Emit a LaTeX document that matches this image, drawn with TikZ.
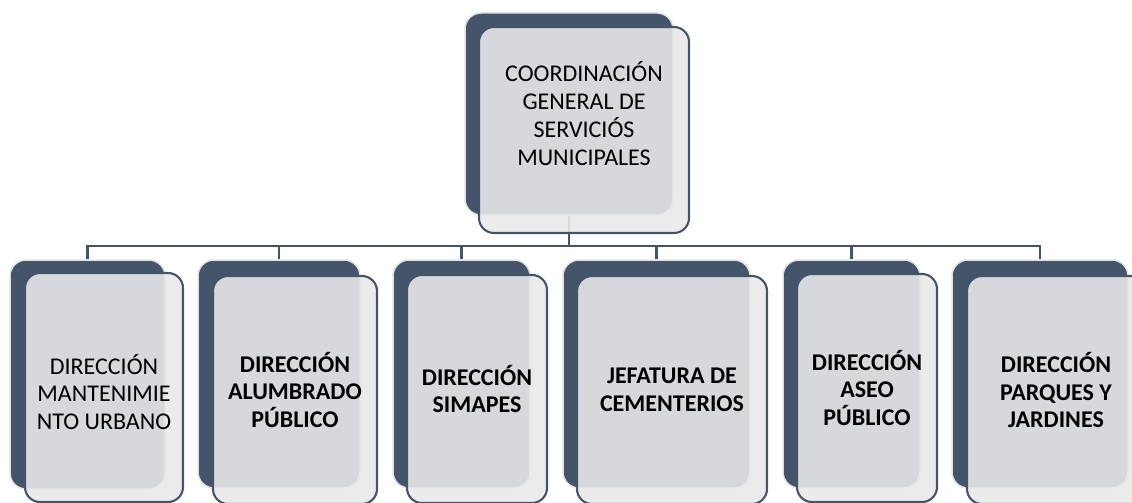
\documentclass[tikz,border=0pt]{standalone}
\usepackage{fontspec}
\setmainfont{Carlito}
\definecolor{slate}{HTML}{44546A}
\definecolor{paper}{HTML}{E9E9E9}
\definecolor{halo}{HTML}{E2E2E2}
\begin{document}
\begin{tikzpicture}[x=1pt,y=-1pt,
  back/.style={draw=halo, line width=1.5pt, fill=slate, rounded corners=16pt, inner sep=0pt},
  front/.style={draw=slate, line width=2.1pt, fill=paper, fill opacity=0.89, text opacity=1,
    rounded corners=15pt, align=center, inner sep=0pt,
    font=\fontsize{24}{27.5}\selectfont},
  lbl/.style={align=center, inner sep=0pt, font=\fontsize{24}{28}\selectfont},
  link/.style={draw=slate, line width=2.4pt}]
\useasboundingbox (0,0) rectangle (1132,503);
% back boxes
\node[back, minimum width=208pt, minimum height=202pt] (k0) at (569,114) {};
\node[back, minimum width=155pt, minimum height=229pt] (k1) at (87.5,374.5) {};
\node[back, minimum width=162pt, minimum height=228pt] (k2) at (279,374) {};
\node[back, minimum width=137pt, minimum height=228pt] (k3) at (461.5,374) {};
\node[back, minimum width=187pt, minimum height=228pt] (k4) at (656.5,374) {};
\node[back, minimum width=137pt, minimum height=228pt] (k5) at (851.5,374) {};
\node[back, minimum width=176pt, minimum height=228pt] (k6) at (1040,374) {};
% connectors
\coordinate (j) at (569,246);
\draw[link] (k0.south) -- (j);
\foreach \i in {1,...,6} {\draw[link] (j) -| (k\i.north);}
% front boxes
\node[front, minimum width=210pt, minimum height=206pt] (f0) at (584,130) {};
\node[lbl] (t0) at (584,114) {COORDINACIÓN\\GENERAL DE\\SERVICIÓS\\MUNICIPALES};
\node[front, minimum width=158pt, minimum height=229pt] (f1) at (104,387.5)
  {\rule{0pt}{29pt}DIRECCIÓN\\MANTENIMIE\\NTO URBANO};
\node[front, minimum width=164pt, minimum height=228pt] (f2) at (295,390)
  {\bfseries DIRECCIÓN\\\bfseries ALUMBRADO\\\bfseries PÚBLICO};
\node[front, minimum width=140pt, minimum height=228pt] (f3) at (477,389)
  {\bfseries DIRECCIÓN\\\bfseries SIMAPES};
\node[front, minimum width=190pt, minimum height=228pt] (f4) at (672,390)
  {\bfseries JEFATURA DE\\\bfseries CEMENTERIOS};
\node[front, minimum width=140pt, minimum height=228pt] (f5) at (867,388)
  {\bfseries DIRECCIÓN\\\bfseries ASEO\\\bfseries PÚBLICO};
\node[front, minimum width=178pt, minimum height=228pt] (f6) at (1056,390)
  {\bfseries DIRECCIÓN\\\bfseries PARQUES Y\\\bfseries JARDINES};
\end{tikzpicture}
\end{document}
